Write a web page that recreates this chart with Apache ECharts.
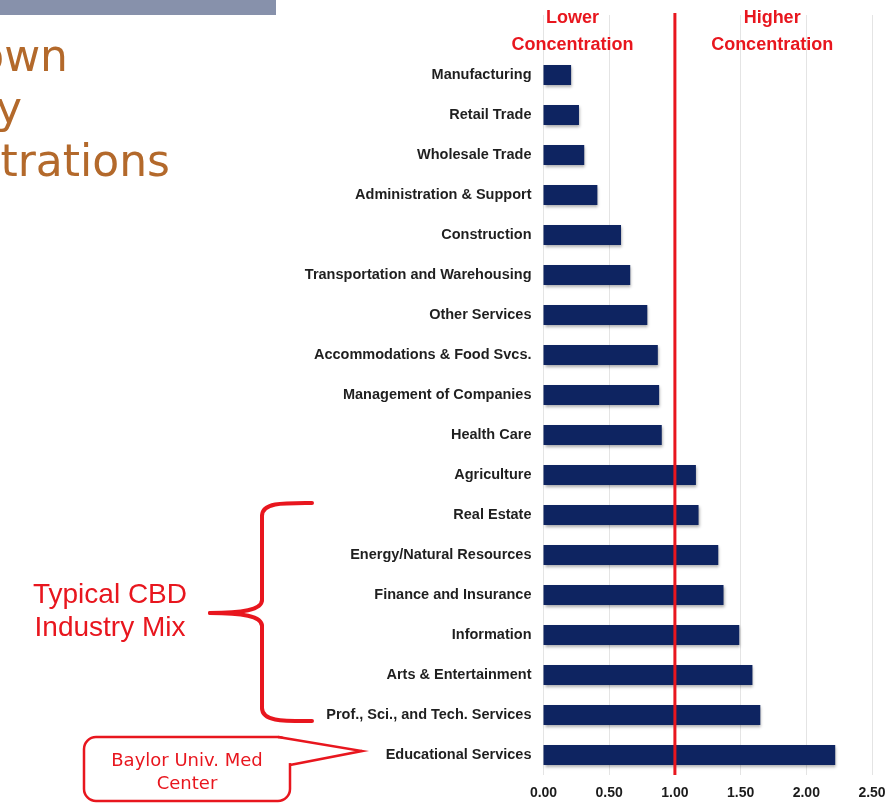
<!DOCTYPE html>
<html>
<head>
<meta charset="utf-8">
<script src="https://cdn.jsdelivr.net/npm/echarts@6/dist/echarts.min.js"></script>
<style>
  html, body { margin: 0; padding: 0; background: #ffffff; }
  #chart { width: 893px; height: 803px; }
</style>
</head>
<body>
<div id="chart"></div>
<script>
// Industry location quotients, top to bottom
const industries = [
  'Manufacturing',
  'Retail Trade',
  'Wholesale Trade',
  'Administration & Support',
  'Construction',
  'Transportation and Warehousing',
  'Other Services',
  'Accommodations & Food Svcs.',
  'Management of Companies',
  'Health Care',
  'Agriculture',
  'Real Estate',
  'Energy/Natural Resources',
  'Finance and Insurance',
  'Information',
  'Arts & Entertainment',
  'Prof., Sci., and Tech. Services',
  'Educational Services'
];
const concentration = [
  0.21, 0.27, 0.31, 0.41, 0.59, 0.66, 0.79, 0.87, 0.88,
  0.90, 1.16, 1.18, 1.33, 1.37, 1.49, 1.59, 1.65, 2.22
];
const xTicks = [0, 0.5, 1.0, 1.5, 2.0, 2.5];
const threshold = 1.0;

const titleFragments = ['own', 'y', 'trations'];
const lowerLabel = ['Lower', 'Concentration'];
const higherLabel = ['Higher', 'Concentration'];
const mixLabel = ['Typical CBD', 'Industry Mix'];
const calloutLabel = ['Baylor Univ. Med', 'Center'];

const RED = '#e8161e';
const NAVY = '#0e2461';

const chart = echarts.init(document.getElementById('chart'), null, { renderer: 'canvas' });

// a blank band at the top leaves room for the header labels
const axisCats = [''].concat(industries);
const axisVals = [null].concat(concentration);

chart.setOption({
  animation: false,
  backgroundColor: '#ffffff',
  grid: { left: 543.5, right: 21, top: 15, bottom: 28, containLabel: false },
  xAxis: {
    type: 'value',
    min: xTicks[0],
    max: xTicks[xTicks.length - 1],
    interval: xTicks[1] - xTicks[0],
    axisLine: { show: false },
    axisTick: { show: false },
    splitLine: { show: true, lineStyle: { color: '#e4e4e4', width: 1 } },
    axisLabel: {
      margin: 11,
      color: '#1c1c1c',
      fontFamily: 'Liberation Sans, Arial, sans-serif',
      fontWeight: 'bold',
      fontSize: 14,
      formatter: v => v.toFixed(2)
    }
  },
  yAxis: {
    type: 'category',
    inverse: true,
    data: axisCats,
    axisLine: { show: false },
    axisTick: { show: false },
    splitLine: { show: false },
    axisLabel: {
      margin: 12,
      color: '#1f1f1f',
      fontFamily: 'Liberation Sans, Arial, sans-serif',
      fontWeight: 'bold',
      fontSize: 14.5
    }
  },
  series: [{
    type: 'bar',
    data: axisVals,
    barWidth: 20,
    itemStyle: {
      color: NAVY,
      shadowColor: 'rgba(0,0,0,0.35)',
      shadowBlur: 3,
      shadowOffsetX: 1,
      shadowOffsetY: 2
    }
  }]
});

// threshold line at 1.0, extended up into the header band
const xLine = chart.convertToPixel({ xAxisIndex: 0 }, threshold);
const xLow = chart.convertToPixel({ xAxisIndex: 0 }, 0.22);
const xHigh = chart.convertToPixel({ xAxisIndex: 0 }, 1.74);

const headerFont = 'bold 18px "Liberation Sans", Arial, sans-serif';
const titleFont = '44px "DejaVu Sans", Verdana, sans-serif';
const noteFont = '28px "Liberation Sans", Arial, sans-serif';
const calloutFont = '18px "DejaVu Sans", Verdana, sans-serif';

const braceStyle = { stroke: RED, lineWidth: 4, fill: null, lineCap: 'round' };
const curve = (x1, y1, cpx1, cpy1, cpx2, cpy2, x2, y2) => ({
  type: 'bezierCurve',
  shape: { x1, y1, cpx1, cpy1, cpx2, cpy2, x2, y2 },
  style: braceStyle
});
const seg = (x1, y1, x2, y2) => ({ type: 'line', shape: { x1, y1, x2, y2 }, style: braceStyle });

chart.setOption({
  graphic: [
    // slide header band
    { type: 'rect', shape: { x: 0, y: 0, width: 276, height: 15 }, style: { fill: '#8791ab' } },
    // slide title (clipped at the left edge)
    { type: 'text', style: { text: titleFragments[0], x: 68, y: 82, textAlign: 'right', textVerticalAlign: 'bottom', font: titleFont, fill: '#b3692b' } },
    { type: 'text', style: { text: titleFragments[1], x: 22, y: 134, textAlign: 'right', textVerticalAlign: 'bottom', font: titleFont, fill: '#b3692b' } },
    { type: 'text', style: { text: titleFragments[2], x: 170, y: 187, textAlign: 'right', textVerticalAlign: 'bottom', font: titleFont, fill: '#b3692b' } },

    // threshold line
    { type: 'line', shape: { x1: xLine, y1: 13, x2: xLine, y2: 775 }, style: { stroke: RED, lineWidth: 3 }, z: 10 },

    // header labels
    { type: 'text', style: { text: lowerLabel[0], x: xLow, y: 18, textAlign: 'center', textVerticalAlign: 'middle', font: headerFont, fill: RED } },
    { type: 'text', style: { text: lowerLabel[1], x: xLow, y: 45, textAlign: 'center', textVerticalAlign: 'middle', font: headerFont, fill: RED } },
    { type: 'text', style: { text: higherLabel[0], x: xHigh, y: 18, textAlign: 'center', textVerticalAlign: 'middle', font: headerFont, fill: RED } },
    { type: 'text', style: { text: higherLabel[1], x: xHigh, y: 45, textAlign: 'center', textVerticalAlign: 'middle', font: headerFont, fill: RED } },

    // curly brace around the CBD mix
    curve(312, 503, 285, 503, 262, 502, 262, 516),
    seg(262, 516, 262, 600),
    curve(262, 600, 262, 610, 242, 613, 210, 613),
    curve(210, 613, 242, 613, 262, 616, 262, 626),
    seg(262, 626, 262, 708),
    curve(262, 708, 262, 722, 285, 721, 312, 721),
    { type: 'text', style: { text: mixLabel[0], x: 110, y: 595, textAlign: 'center', textVerticalAlign: 'middle', font: noteFont, fill: RED } },
    { type: 'text', style: { text: mixLabel[1], x: 110, y: 628, textAlign: 'center', textVerticalAlign: 'middle', font: noteFont, fill: RED } },

    // callout box with a pointer
    { type: 'rect', shape: { x: 84, y: 737, width: 206, height: 64, r: 12 }, style: { stroke: RED, lineWidth: 2.5, fill: '#ffffff' } },
    { type: 'rect', shape: { x: 279, y: 738.6, width: 13, height: 24.5 }, style: { fill: '#ffffff' } },
    { type: 'polyline', shape: { points: [[278, 737], [362, 751], [290, 765]] }, style: { stroke: RED, lineWidth: 2.5, fill: null, lineJoin: 'miter' } },
    { type: 'text', style: { text: calloutLabel[0], x: 187, y: 761, textAlign: 'center', textVerticalAlign: 'middle', font: calloutFont, fill: RED } },
    { type: 'text', style: { text: calloutLabel[1], x: 187, y: 784, textAlign: 'center', textVerticalAlign: 'middle', font: calloutFont, fill: RED } }
  ]
});
</script>
</body>
</html>
